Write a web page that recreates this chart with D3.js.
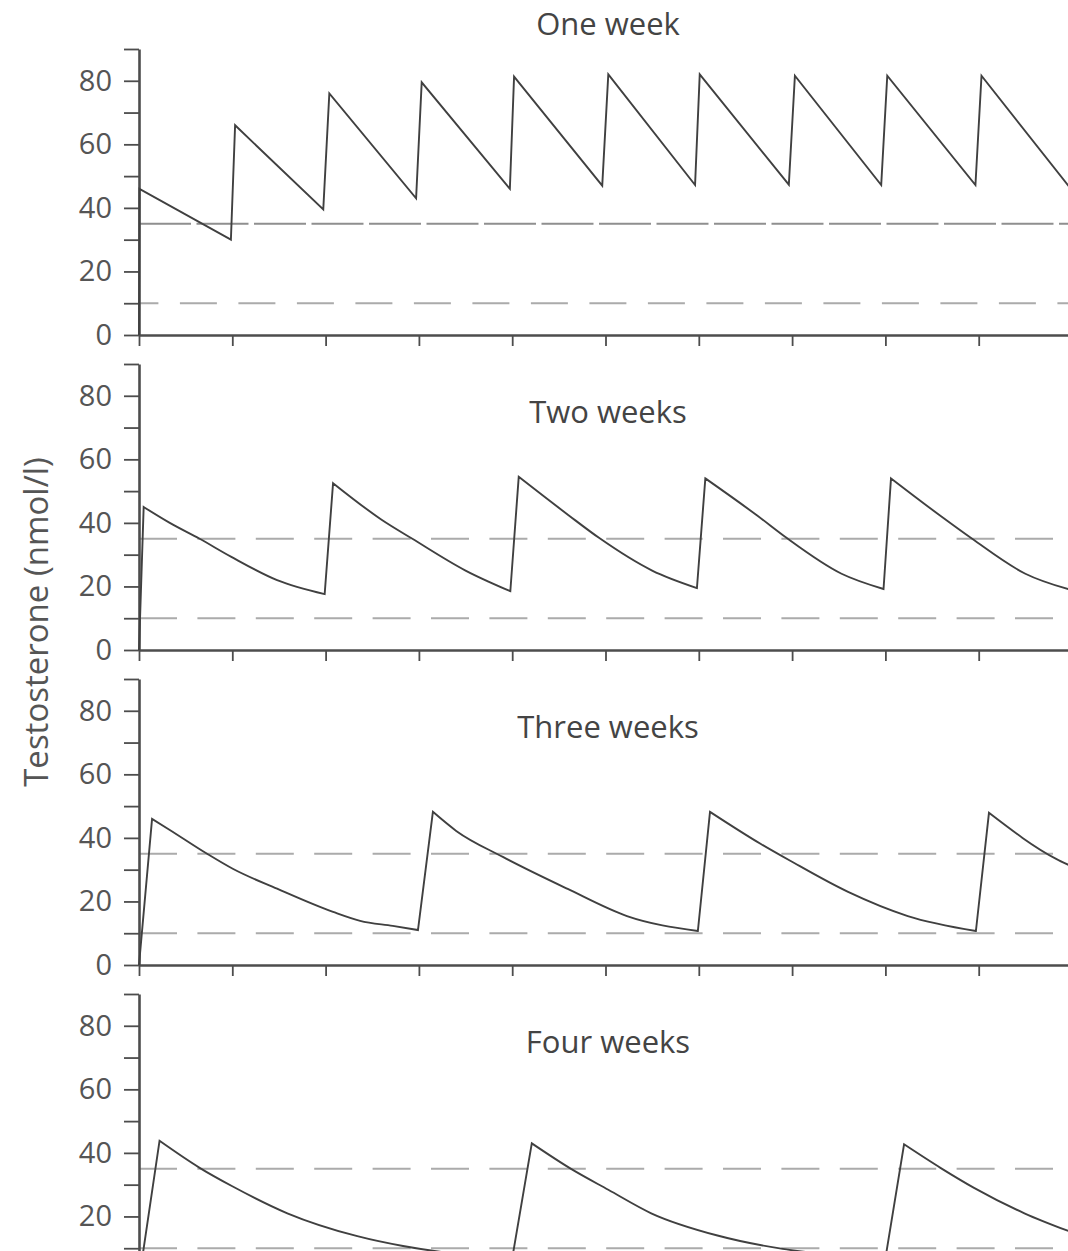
<!DOCTYPE html>
<html>
<head>
<meta charset="utf-8">
<script src="https://cdn.jsdelivr.net/npm/d3@7"></script>
<style>
  html, body { margin: 0; padding: 0; background: #fff; }
  svg { display: block; }
</style>
</head>
<body>
<svg id="chart" width="1068" height="1251"></svg>
<script>
// Dosing-interval labels, one per panel
const panelTitles = ["One week", "Two weeks", "Three weeks", "Four weeks"];
const yAxisTitle = "Testosterone (nmol/l)";

// Axis ticks
const yMajorTicks = [0, 20, 40, 60, 80];
const yAllTicks = [0, 10, 20, 30, 40, 50, 60, 70, 80, 90];
const xTicks = [0, 1, 2, 3, 4, 5, 6, 7, 8, 9, 10];   // weeks

// Normal range limits (nmol/l)
const normalRange = [10, 35];

// Serum testosterone (nmol/l) against time (weeks) for each injection interval
const oneWeekTime  = [0, 0.005, 0.985, 1.03, 1.975, 2.04, 2.97, 3.03, 3.975, 4.02, 4.965, 5.03, 5.96, 6.01, 6.965, 7.03, 7.955, 8.02, 8.965, 9.03, 10];
const oneWeekLevel = [0, 46,    30,    66,   39.5,  76,   43,   79.5, 46,    81.3, 47,    82,   47.2, 82,   47.3,  81.6, 47.2,  81.6, 47.2,  81.6, 45.5];

const twoWeekTime  = [0, 0.05, 0.33, 0.65, 0.99, 1.48, 1.99, 2.08, 2.6, 2.93, 3.5, 3.98, 4.07, 4.6, 4.93, 5.5, 5.98, 6.07, 6.64, 6.94, 7.53, 7.98, 8.06, 8.6, 8.93, 9.5, 10];
const twoWeekLevel = [0, 45,   40,   35,   29.3, 22,   17.6, 52.5, 41,  35,   25,  18.5, 54.5, 42.5, 35.3, 25, 19.5, 54,   42,   35.3, 24,   19.2, 54,   42,  35,   24,  18.8];

const threeWeekTime  = [0, 0.14, 0.33, 0.73, 1.01, 1.48, 2.08, 2.37, 2.72, 2.99, 3.15, 3.4, 3.9, 4.59, 5.23, 5.99, 6.12, 6.67, 6.98, 7.6, 8.24, 8.97, 9.11, 9.83, 10];
const threeWeekLevel = [0, 46,   42.5, 35,   30.2, 24,   16.7, 13.9, 12.3, 11,   48.2, 42.2, 34, 24,   15.4, 10.7, 48.2, 38,   32.8, 23,  15.4, 10.7, 47.9, 33.4, 31];

const fourWeekTime  = [0, 0.22, 0.65, 1.0,  1.59, 2.34, 2.83, 3.3, 3.7, 4.0, 4.21, 4.64, 5.03, 5.49, 6.2, 6.9, 7.3, 7.7, 8.0, 8.2,  8.59, 8.95, 9.49, 10];
const fourWeekLevel = [0, 43.8, 35.3, 29.5, 21,   13.8, 10.7, 8.6, 7.4, 6.8, 43,   34.8, 28.4, 21,   14,  9.8, 8.3, 7.2, 6.8, 42.7, 35.3, 29,   21,   15];

const series = [
  [oneWeekTime, oneWeekLevel],
  [twoWeekTime, twoWeekLevel],
  [threeWeekTime, threeWeekLevel],
  [fourWeekTime, fourWeekLevel]
];

const W = 1068, H = 1251;
const svg = d3.select("#chart");
const fontFamily = "'Open Sans', 'DejaVu Sans', sans-serif";
const inkCurve = "#404040";
const inkAxis = "#4d4d4d";
const inkText = "#555";
const inkDash = "#ababab";

const x = d3.scaleLinear().domain([0, 10]).range([139, 1072]);
const panelHeight = 286;          // pixels spanning 0–90 nmol/l
const panelStep = 315;            // vertical distance between panels
const firstZero = 335;            // baseline of the top panel

// Split a series at its turning points: rises are straight injections,
// decays are drawn as smooth monotone curves.
function curvePath(pts, y) {
  const turns = [0];
  for (let j = 1; j < pts.length - 1; j++) {
    const a = pts[j - 1][1], b = pts[j][1], c = pts[j + 1][1];
    if ((b > a && b > c) || (b < a && b < c)) turns.push(j);
  }
  turns.push(pts.length - 1);
  let d = "";
  for (let s = 0; s < turns.length - 1; s++) {
    const seg = pts.slice(turns[s], turns[s + 1] + 1);
    const rising = seg[seg.length - 1][1] > seg[0][1];
    const gen = d3.line()
      .x(p => x(p[0])).y(p => y(p[1]))
      .curve(rising ? d3.curveLinear : d3.curveMonotoneX);
    let part = gen(seg);
    if (s > 0) part = "L" + part.slice(1);
    d += part;
  }
  return d;
}

series.forEach(([time, level], i) => {
  const zeroY = firstZero + i * panelStep;
  const y = d3.scaleLinear().domain([0, 90]).range([zeroY, zeroY - panelHeight]);
  const g = svg.append("g").attr("class", "panel");

  // Normal range limits
  normalRange.forEach((v, k) => {
    let dash = "38,20.4", offset = 0, col = inkDash;
    if (i === 0 && k === 1) { dash = "52,5.5"; col = "#8f8f8f"; }
    if (i === 0 && k === 0) { dash = "37,21.5"; offset = 17.6; }
    g.append("line")
      .attr("x1", x(0)).attr("x2", x(10))
      .attr("y1", y(v)).attr("y2", y(v))
      .attr("stroke", col)
      .attr("stroke-width", 2.1)
      .attr("stroke-dasharray", dash)
      .attr("stroke-dashoffset", offset);
  });

  // Y axis
  const yAxis = d3.axisLeft(y)
    .tickValues(yAllTicks)
    .tickSize(15)
    .tickSizeOuter(0)
    .tickPadding(12)
    .tickFormat(d => (yMajorTicks.includes(d) && y(d) < H - 8) ? d : "");
  const ya = g.append("g").attr("transform", `translate(${x(0)},0)`).call(yAxis);
  ya.select(".domain").attr("stroke", inkAxis).attr("stroke-width", 2.6);
  ya.selectAll(".tick line").attr("stroke", inkAxis).attr("stroke-width", 1.8);
  ya.selectAll(".tick text")
    .attr("fill", inkText)
    .style("font-family", fontFamily)
    .style("font-size", "29px");

  // X axis (unlabelled week ticks)
  const xAxis = d3.axisBottom(x)
    .tickValues(xTicks)
    .tickSize(11)
    .tickSizeOuter(0)
    .tickFormat("");
  const xa = g.append("g").attr("transform", `translate(0,${zeroY})`).call(xAxis);
  xa.select(".domain").attr("stroke", inkAxis).attr("stroke-width", 2.4);
  xa.selectAll(".tick line").attr("stroke", inkAxis).attr("stroke-width", 1.8);

  // Testosterone curve
  const pts = time.map((t, j) => [t, level[j]]);
  g.append("path")
    .attr("d", curvePath(pts, y))
    .attr("fill", "none")
    .attr("stroke", inkCurve)
    .attr("stroke-width", 1.9)
    .attr("stroke-linejoin", "miter");

  // Panel title
  g.append("text")
    .attr("x", 608)
    .attr("y", i === 0 ? 35 : zeroY - 227)
    .attr("text-anchor", "middle")
    .attr("fill", "#444")
    .style("font-family", fontFamily)
    .style("font-size", "31px")
    .text(panelTitles[i]);
});

// Shared y-axis title
svg.append("text")
  .attr("transform", "translate(48,622) rotate(-90)")
  .attr("text-anchor", "middle")
  .attr("fill", inkText)
  .style("font-family", fontFamily)
  .style("font-size", "33px")
  .text(yAxisTitle);
</script>
</body>
</html>
